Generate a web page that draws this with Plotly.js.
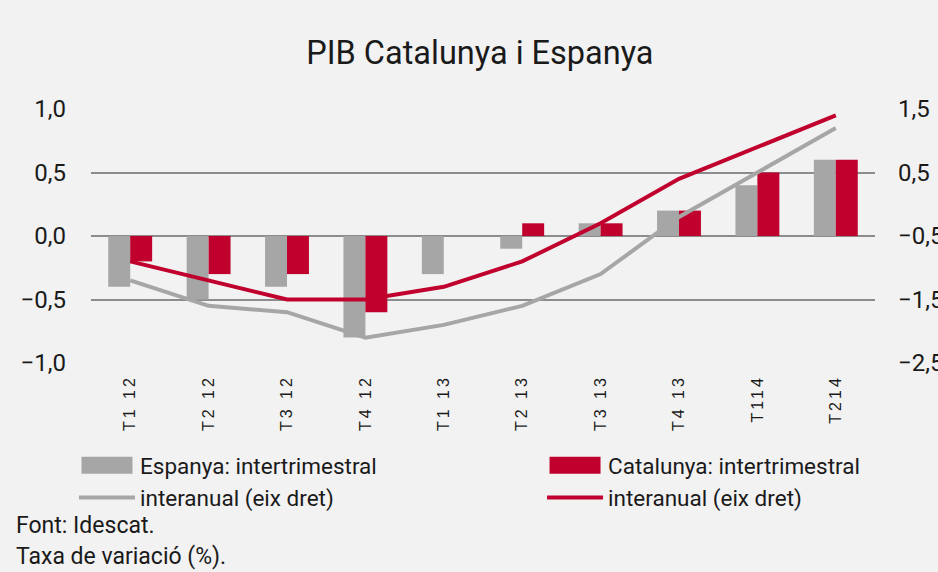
<!DOCTYPE html>
<html>
<head>
<meta charset="utf-8">
<script src="https://cdn.plot.ly/plotly-3.0.1.min.js"></script>
<style>
html,body{margin:0;padding:0;background:#f2f2f2;}
#chart{width:938px;height:572px;}
.xaxislayer-above .xtick text{letter-spacing:3px;}
</style>
</head>
<body>
<div id="chart"></div>
<script>
var categories = ["T1 12","T2 12","T3 12","T4 12","T1 13","T2 13","T3 13","T4 13","T114","T214"];
var espanyaTrim = [-0.4,-0.5,-0.4,-0.8,-0.3,-0.1,0.1,0.2,0.4,0.6];
var catalunyaTrim = [-0.2,-0.3,-0.3,-0.6,0.0,0.1,0.1,0.2,0.5,0.6];
var espanyaAnual = [-1.2,-1.6,-1.7,-2.1,-1.9,-1.6,-1.1,-0.2,0.5,1.2];
var catalunyaAnual = [-0.9,-1.2,-1.5,-1.5,-1.3,-0.9,-0.3,0.4,0.9,1.4];
var leftTicks = [-1.0,-0.5,0.0,0.5,1.0];
var rightTicks = [-2.5,-1.5,-0.5,0.5,1.5];

var GRAY = "#a6a6a6", RED = "#c0002d";
var FONT = "Roboto, 'Liberation Sans', sans-serif";

var traces = [
  {type:"bar", name:"Espanya: intertrimestral", x:categories, y:espanyaTrim, marker:{color:GRAY}, yaxis:"y", legend:"legend"},
  {type:"scatter", mode:"lines", name:"interanual (eix dret)", x:categories, y:espanyaAnual, line:{color:GRAY, width:4}, yaxis:"y2", legend:"legend"},
  {type:"bar", name:"Catalunya: intertrimestral", x:categories, y:catalunyaTrim, marker:{color:RED}, yaxis:"y", legend:"legend2"},
  {type:"scatter", mode:"lines", name:"interanual (eix dret)", x:categories, y:catalunyaAnual, line:{color:RED, width:4}, yaxis:"y2", legend:"legend2"}
];

var legendCommon = {orientation:"v", y:-0.319, yanchor:"top", xanchor:"left", itemwidth:56, font:{family:FONT, size:22.5, color:"#1a1a1a"}, bgcolor:"rgba(0,0,0,0)", borderwidth:0, tracegroupgap:0, traceorder:"normal"};

var layout = {
  width:938, height:572,
  paper_bgcolor:"#f2f2f2", plot_bgcolor:"#f2f2f2",
  margin:{l:91, r:63, t:109, b:209, autoexpand:false},
  separators:",.",
  barmode:"group", bargap:0.44, bargroupgap:0,
  showlegend:true,
  title:{text:"PIB Catalunya i Espanya", xref:"paper", x:0.496, xanchor:"center", y:0.908, yanchor:"middle", font:{family:FONT, size:32.5, color:"#1a1a1a"}},
  xaxis:{type:"category", automargin:false, tickangle:-90, tickfont:{family:"'Liberation Sans', Arial, sans-serif", size:16, color:"#1a1a1a"}, showgrid:false, zeroline:false, showline:false, ticks:"", ticklabelstandoff:8},
  yaxis:{range:[-1,1], automargin:false, tickvals:leftTicks, tickformat:".1f", showgrid:true, gridcolor:"#8c8c8c", gridwidth:1.5, zeroline:false, showline:false, ticks:"", ticklabelstandoff:24, tickfont:{family:FONT, size:24, color:"#1a1a1a"}},
  yaxis2:{range:[-2.5,1.5], automargin:false, tickvals:rightTicks, tickformat:".1f", overlaying:"y", side:"right", showgrid:false, zeroline:false, showline:false, ticks:"", ticklabelstandoff:22, tickfont:{family:FONT, size:24, color:"#1a1a1a"}},
  legend:Object.assign({}, legendCommon, {x:-0.0217}),
  legend2:Object.assign({}, legendCommon, {x:0.5753}),
  annotations:[
    {text:"Font: Idescat.", xref:"paper", yref:"paper", x:-0.098, xanchor:"left", y:-0.638, yanchor:"middle", showarrow:false, font:{family:FONT, size:23, color:"#1a1a1a"}},
    {text:"Taxa de variació (%).", xref:"paper", yref:"paper", x:-0.098, xanchor:"left", y:-0.762, yanchor:"middle", showarrow:false, font:{family:FONT, size:23, color:"#1a1a1a"}}
  ]
};

function widenLegendBars(){
  document.querySelectorAll("#chart .legendpoints path").forEach(function(p){
    if(p.getAttribute("data-wide")) return;
    var b;
    try { b = p.getBBox(); } catch(e) { return; }
    if(!b || b.width < 8 || b.width > 16 || b.height < 8 || b.height > 16) return;
    var cx = b.x + b.width/2, cy = b.y + b.height/2;
    var t = p.getAttribute("transform") || "";
    p.setAttribute("transform", t + " translate(" + cx + "," + cy + ") scale(4.25,1.42) translate(" + (-cx) + "," + (-cy) + ")");
    p.setAttribute("data-wide","1");
  });
}

Plotly.newPlot("chart", traces, layout, {displayModeBar:false, responsive:false}).then(function(gd){
  widenLegendBars();
  gd.on("plotly_afterplot", widenLegendBars);
});
</script>
</body>
</html>
